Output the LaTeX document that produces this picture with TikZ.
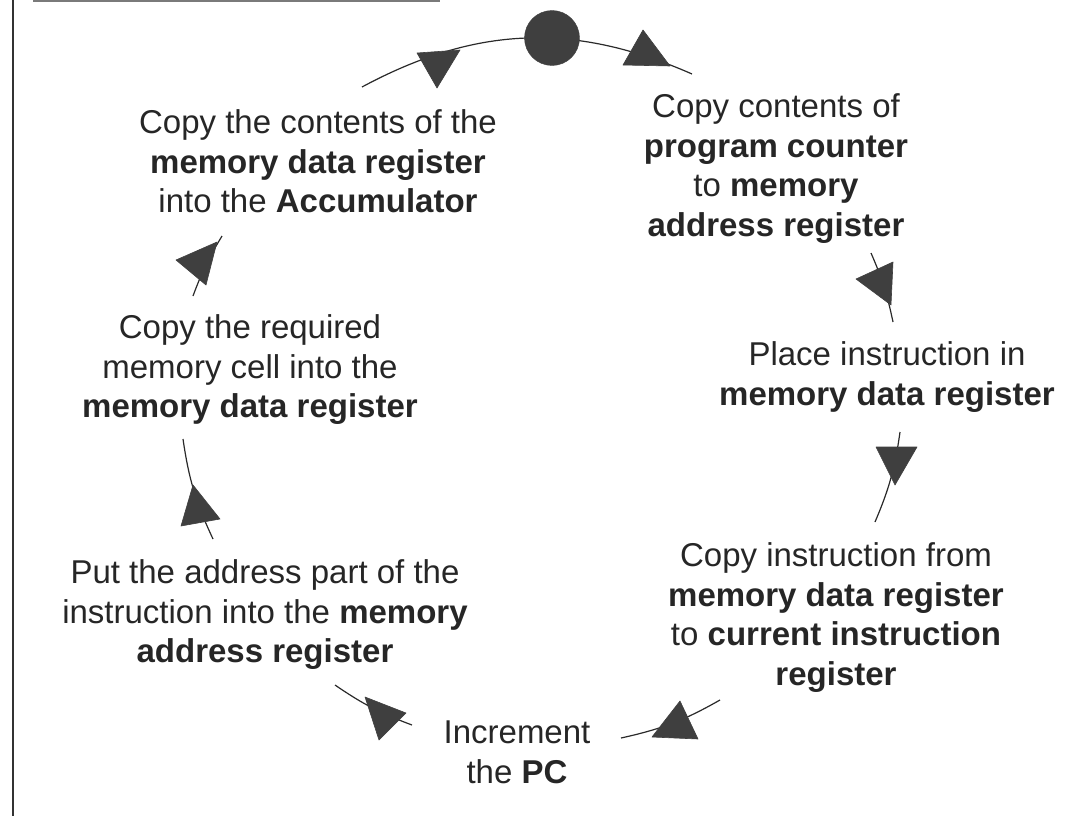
\documentclass[tikz,border=0pt]{standalone}
\usepackage{fontspec}
\setmainfont{Liberation Sans}
\definecolor{txt}{HTML}{262626}
\definecolor{linec}{HTML}{2A2A2A}
\definecolor{headc}{HTML}{3F3F3F}
\definecolor{framec}{HTML}{333333}
\definecolor{topc}{HTML}{7A7A7A}
\begin{document}
\begin{tikzpicture}[x=1pt,y=-1pt,
  lbl/.style={font=\fontsize{33}{39.5}\selectfont, align=center, inner sep=0pt, anchor=north, text=txt},
  seg/.style={line width=1.2pt, draw=linec},
  head/.style={fill=headc, draw=headc, line width=0.6pt, line join=round}]
\useasboundingbox (0,0) rectangle (1073,816);

% frame lines
\draw[framec, line width=2pt] (12.5,0) -- (12.5,816);
\draw[topc, line width=1.5pt] (33,1) -- (440,1);

% the cycle steps
\node[lbl] (pcmar) at (776,89.7) {\strut Copy contents of\\\textbf{program counter}\\to \textbf{memory}\\\textbf{address register}\strut};
\node[lbl] (mdr) at (887,337.7) {\strut Place instruction in\\\textbf{memory data register}\strut};
\node[lbl] (cir) at (836,538.7) {\strut Copy instruction from\\\textbf{memory data register}\\to \textbf{current instruction}\\\textbf{register}\strut};
\node[lbl] (incpc) at (517,715.7) {\strut Increment\\the \textbf{PC}\strut};
\node[lbl] (addr) at (265,555.7) {\strut Put the address part of the\\instruction into the \textbf{memory}\\\textbf{address register}\strut};
\node[lbl] (fetch) at (250,310.7) {\strut Copy the required\\memory cell into the\\\textbf{memory data register}\strut};
\node[lbl] (acc) at (318,105.7) {\strut Copy the contents of the\\\textbf{memory data register}\\into the \textbf{Accumulator}\strut};

% connector end points
\coordinate (a1) at (362,87);  \coordinate (a2) at (692,74);
\coordinate (b1) at (871,253); \coordinate (b2) at (893,322);
\coordinate (c1) at (900,432); \coordinate (c2) at (875,522);
\coordinate (d1) at (720,700); \coordinate (d2) at (621,738);
\coordinate (e1) at (412,725); \coordinate (e2) at (335,685);
\coordinate (f1) at (213,539); \coordinate (f2) at (183,439);
\coordinate (g1) at (193,296); \coordinate (g2) at (222,236);

% arcs of the cycle
\draw[seg] (a1) to[bend left=26] (a2);
\draw[seg] (b1) to[bend left=5.8] (b2);
\draw[seg] (c1) to[bend left=7.5] (c2);
\draw[seg] (d1) to[bend left=8.6] (d2);
\draw[seg] (e1) to[bend left=7] (e2);
\draw[seg] (f1) to[bend left=8.4] (f2);
\draw[seg] (g1) to[bend left=5.4] (g2);

% start marker
\node[circle, fill=headc, draw=headc, minimum size=55pt, inner sep=0pt] (start) at (552,38) {};

% arrowheads
\filldraw[head] (417,53) -- (460,50) -- (437,88) -- cycle;
\filldraw[head] (643,30) -- (623,65) -- (670,66) -- cycle;
\filldraw[head] (856,279) -- (893,262) -- (891,305) -- cycle;
\filldraw[head] (876,447) -- (917,447) -- (895,485) -- cycle;
\filldraw[head] (680,701) -- (652,737) -- (698,739) -- cycle;
\filldraw[head] (365,697) -- (406,713) -- (379,740) -- cycle;
\filldraw[head] (193,485) -- (220,519) -- (181,526) -- cycle;
\filldraw[head] (176,260) -- (217,242) -- (206,285) -- cycle;
\end{tikzpicture}
\end{document}
